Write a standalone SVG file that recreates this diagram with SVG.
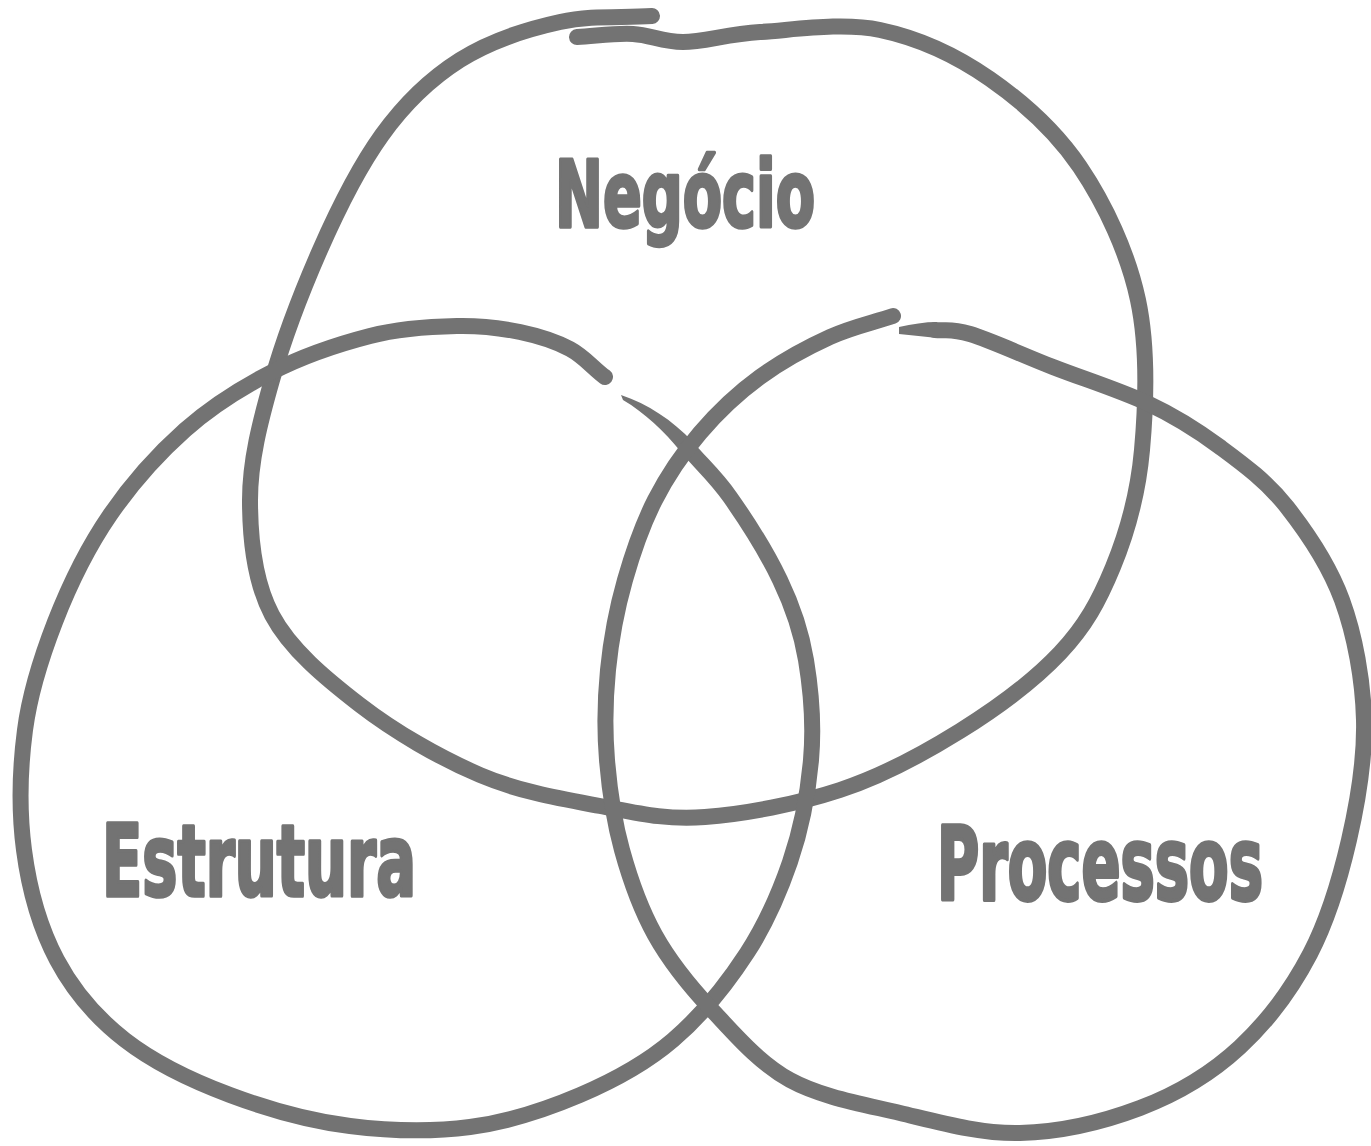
<svg xmlns="http://www.w3.org/2000/svg" width="1371" height="1146" viewBox="0 0 1371 1146">
<style>
.ring{fill:none;stroke:#737373;stroke-width:16;stroke-linecap:round;stroke-linejoin:round}
.tip{fill:#737373;stroke:none}
.lbl{fill:#737373;stroke:#737373;stroke-width:2.5;stroke-linejoin:round;font-family:"DejaVu Sans Condensed","DejaVu Sans","Liberation Sans",sans-serif;font-weight:bold}
</style>
<rect width="1371" height="1146" fill="#ffffff"/>
<g id="connectors">
<path id="ring-negocio" class="ring" d="M652,16 C621,18 592,15 560,22 C528,29 490,41 460,60 C430,79 405,103 382,135 C359,167 338,209 320,250 C302,291 284,338 272,380 C260,422 250,461 250,500 C250,539 254,581 272,615 C290,649 325,678 360,705 C395,732 440,758 480,775 C520,792 562.5,799 600,806 C637.5,813 665,820 705,817 C745,814 797.5,804 840,790 C882.5,776 923,754 960,731 C997,708 1034.5,680 1060,653 C1085.5,626 1099,601 1113,567 C1127,533 1138,494.5 1142,450 C1146,405.5 1148,347 1138,300 C1128,253 1105,204 1080,167 C1055,130 1023,102 990,79 C957,56 918,38 880,30 C842,22 793,30 760,32 C727,34 704,42 683,42 C662,42 651,35 633,34 C615,33 596,36 577,37"/>
<path id="ring-estrutura" class="ring" d="M605,377 C593,368 584,356.5 570,349 C556,341.5 539,336 520,332 C501,328 482,325.5 457,326 C432,326.5 401,328 370,336 C339,344 303,356 272,372 C241,388 212,406 185,430 C158,454 132,483 110,515 C88,547 69,586 55,622 C41,658 30,692 25,730 C20,768 19,812 24,850 C29,888 40,928 57,960 C74,992 96,1017.5 125,1040 C154,1062.5 192.5,1081 230,1095 C267.5,1109 310,1121 350,1126 C390,1131 432,1132 470,1127 C508,1122 546,1109.5 580,1095 C614,1080.5 645,1064 673,1040 C701,1016 727.5,983 747,953 C766.5,923 779,894 790,862 C801,830 808,794 811,760 C814,726 811,690 806,660 C801,630 793,607 780,580 C767,553 745.5,519 730,497 C714.5,475 701,464 687,447"/>
<path class="tip" d="M693,442 C672,420 648,404 621,395 L623,400 C645,413 664,431 681,452 Z"/>
<path id="ring-processos" class="ring" d="M893,316 C872,323 852,327 830,337 C808,347 782,361 760,377 C738,393 717.5,412.5 700,433 C682.5,453.5 667.5,475.5 655,500 C642.5,524.5 633,552 625,580 C617,608 611,640 608,670 C605,700 604.5,730 607,760 C609.5,790 614,821 622,850 C630,879 640,908 655,935 C670,962 689.5,986 712,1010 C734.5,1034 759,1063 790,1080 C821,1097 862,1104 900,1113 C938,1122 980,1134 1020,1133 C1060,1132 1103,1122 1140,1108 C1177,1094 1212,1073 1240,1047 C1268,1021 1292,988.5 1310,954 C1328,919.5 1340,879 1349,840 C1358,801 1365,760 1364,720 C1363,680 1355,635.5 1342,600 C1329,564.5 1307,532.5 1287,507 C1267,481.5 1243,464 1220,447 C1197,430 1175,416 1147,403 C1119,390 1082.5,378.5 1053,367 C1023.5,355.5 990,340 970,334 C950,328 947,331 935,330"/>
<path class="tip" d="M937,322 C925,322 912,324 899,327 L899,334 C912,335 925,337 937,338 Z"/>
</g>
<g id="node-negocio" transform="translate(555,227) scale(1,1.44)"><text class="lbl" x="0" y="0" font-size="64.6" textLength="260" lengthAdjust="spacingAndGlyphs">Negócio</text></g>
<g id="node-estrutura" transform="translate(102,896) scale(1,1.49)"><text class="lbl" x="0" y="0" font-size="66.4" textLength="314" lengthAdjust="spacingAndGlyphs">Estrutura</text></g>
<g id="node-processos" transform="translate(937,900) scale(1,1.57)"><text class="lbl" x="0" y="0" font-size="64.8" textLength="326" lengthAdjust="spacingAndGlyphs">Processos</text></g>
</svg>
